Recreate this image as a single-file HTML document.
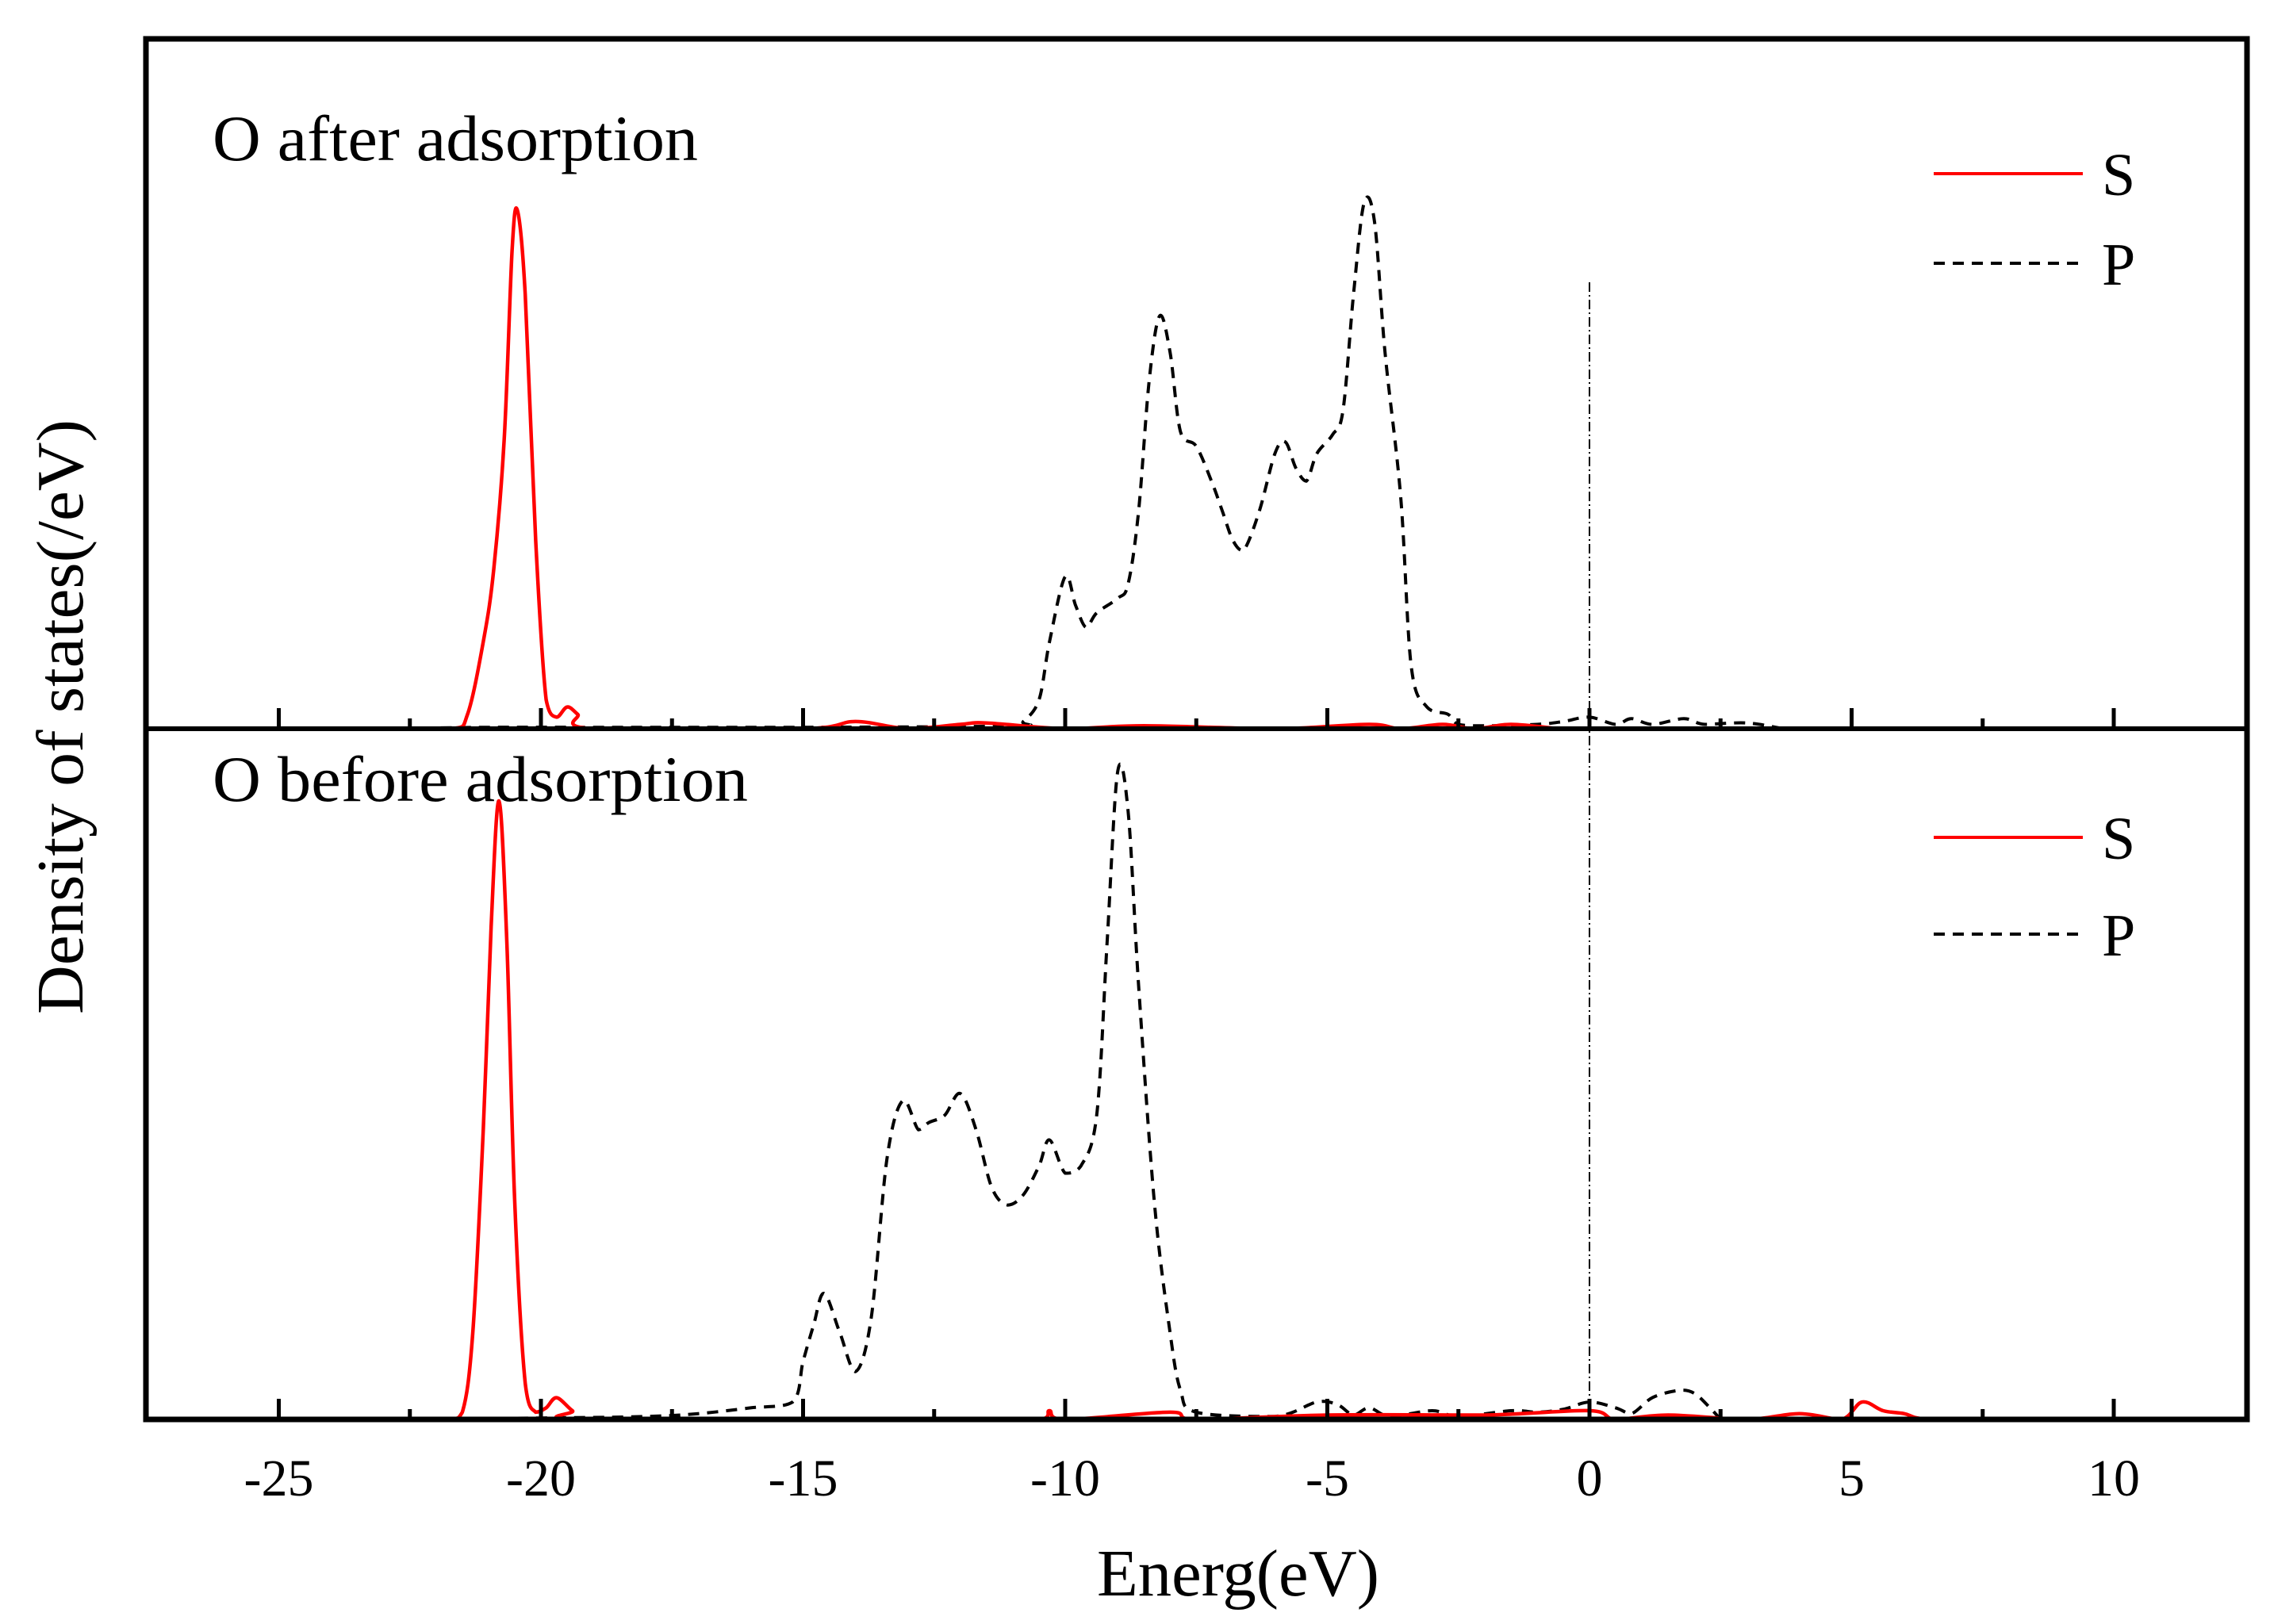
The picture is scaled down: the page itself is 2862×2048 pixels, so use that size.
<!DOCTYPE html>
<html><head><meta charset="utf-8"><style>
html,body{margin:0;padding:0;background:#fff}
svg{display:block}
text{font-family:"Liberation Serif",serif;fill:#000}
</style></head><body>
<svg id="chart" width="2862" height="2048" viewBox="0 0 2862 2048" xmlns="http://www.w3.org/2000/svg">
<g id="marks"></g>
<rect x="184" y="49" width="2649" height="1741" fill="none" stroke="#000" stroke-width="7"/>
<line x1="184" y1="919" x2="2833" y2="919" stroke="#000" stroke-width="6"/>
<g id="ticks"></g>
<text x="268" y="202" font-size="82" textLength="612" lengthAdjust="spacingAndGlyphs">O after adsorption</text>
<text x="268" y="1010" font-size="82" textLength="675" lengthAdjust="spacingAndGlyphs">O before adsorption</text>
<text transform="translate(104,904) rotate(-90)" text-anchor="middle" font-size="84" textLength="750" lengthAdjust="spacingAndGlyphs">Density of states(/eV)</text>
<text x="1561" y="2012" text-anchor="middle" font-size="84" textLength="356" lengthAdjust="spacingAndGlyphs">Energ(eV)</text>
<g>
<line x1="2438" y1="219" x2="2626" y2="219" stroke="#f00" stroke-width="4"/>
<text x="2650" y="246" font-size="76">S</text>
<line x1="2438" y1="332" x2="2626" y2="332" stroke="#000" stroke-width="4" stroke-dasharray="14,10"/>
<text x="2650" y="359" font-size="76">P</text>
</g>
<g>
<line x1="2438" y1="1056" x2="2626" y2="1056" stroke="#f00" stroke-width="4"/>
<text x="2650" y="1083" font-size="76">S</text>
<line x1="2438" y1="1178" x2="2626" y2="1178" stroke="#000" stroke-width="4" stroke-dasharray="14,10"/>
<text x="2650" y="1205" font-size="76">P</text>
</g>
</svg>
<script>
const xTicks = [-25, -20, -15, -10, -5, 0, 5, 10];
const xMinorTicks = [-22.5, -17.5, -12.5, -7.5, -2.5, 2.5, 7.5];
const afterSE = [-23,-21.7,-21.4,-21.1,-20.9,-20.7,-20.55,-20.45,-20.3,-20.1,-19.9,-19.7,-19.5,-19.3,-19.0,-15,-14.0,-13,-12,-11.5,-10,-8.5,-6,-4.2,-3.6,-2.8,-2.2,-1.5,-0.6];
const afterSV = [0,0,10,60,110,200,330,358,300,130,20,8,15,10,0,0,5,0,3,4,0,2,0,3,0,3,0,3,0];
const afterPE = [-23,-21,-19,-15,-11,-10.8,-10.5,-10.3,-10.0,-9.8,-9.6,-9.4,-9.0,-8.8,-8.6,-8.4,-8.2,-8.0,-7.8,-7.5,-7.2,-7.0,-6.8,-6.6,-6.3,-6.0,-5.8,-5.6,-5.4,-5.2,-4.9,-4.7,-4.5,-4.3,-4.1,-3.9,-3.6,-3.4,-3.1,-2.7,-2.5,-2,-1,-0.5,0,0.5,0.8,1.2,1.8,2.2,3,3.7];
const afterPV = [0,1,1,1,2,5,20,60,105,85,70,80,90,100,150,240,285,260,205,195,170,150,130,123,150,190,198,180,171,190,203,220,300,363,350,260,160,43,15,10,3,2,3,5,8,3,7,3,7,3,4,0];
const beforeSE = [-23,-21.8,-21.5,-21.3,-21.1,-20.95,-20.8,-20.65,-20.5,-20.3,-20.1,-19.9,-19.7,-19.4,-19.1,-12,-10.5,-10.3,-10,-8,-7.5,-5,-2,0,0.5,1.5,3,4,4.8,5.2,5.6,6,6.5,8.3];
const beforeSV = [0,0,5,60,200,340,427,330,150,25,5,8,15,6,0,0,0,6,0,5,0,3,3,6,0,3,0,4,0,12,6,4,0,0];
const beforePE = [-23,-20,-18,-17,-16,-15.2,-15.0,-14.8,-14.6,-14.3,-14.0,-13.7,-13.4,-13.1,-12.8,-12.6,-12.3,-12.0,-11.7,-11.4,-11.1,-10.8,-10.5,-10.3,-10.0,-9.7,-9.4,-9.2,-9.0,-8.8,-8.6,-8.3,-8.0,-7.8,-7.5,-6,-5.2,-4.8,-4.5,-4.2,-3.8,-3,-2.5,-1.5,-1,-0.5,0,0.5,0.8,1.2,1.7,2.0,2.3,2.5];
const beforePV = [0,1,2,4,8,12,40,65,87,60,33,70,180,220,200,205,210,225,200,160,148,155,175,193,170,175,210,330,447,420,300,150,60,20,5,2,12,10,3,8,2,6,2,6,5,7,12,8,4,15,20,18,8,0];

const X0 = 2004, XS = 66.1, YS = 1.8264;
const UPPER_BASE = 919, LOWER_BASE = 1790;
function xScale(v){ return X0 + v * XS; }
function yScale(v, base){ return base - v * YS; }
const NS = 'http://www.w3.org/2000/svg';
const marks = document.getElementById('marks');
const ticks = document.getElementById('ticks');

function smoothPath(pts){
  let d = 'M' + pts[0][0].toFixed(1) + ',' + pts[0][1].toFixed(1);
  for (let i = 0; i < pts.length - 1; i++){
    const p0 = pts[i-1] || pts[i], p1 = pts[i], p2 = pts[i+1], p3 = pts[i+2] || p2;
    const c1x = p1[0] + (p2[0]-p0[0])/6, c1y = Math.min(p1[1] + (p2[1]-p0[1])/6, Math.max(p1[1],p2[1]));
    const c2x = p2[0] - (p3[0]-p1[0])/6, c2y = Math.min(p2[1] - (p3[1]-p1[1])/6, Math.max(p1[1],p2[1]));
    d += ' C' + c1x.toFixed(1) + ',' + c1y.toFixed(1) + ' ' + c2x.toFixed(1) + ',' + c2y.toFixed(1) + ' ' + p2[0].toFixed(1) + ',' + p2[1].toFixed(1);
  }
  return d;
}
function drawSeries(es, vs, base, color, dashed, name){
  const pts = es.map((e, i) => [xScale(e), Math.min(base, yScale(vs[i], base))]);
  const p = document.createElementNS(NS, 'path');
  p.setAttribute('d', smoothPath(pts));
  p.setAttribute('fill', 'none');
  p.setAttribute('stroke', color);
  p.setAttribute('stroke-width', dashed ? '4' : '4.5');
  if (dashed) p.setAttribute('stroke-dasharray', '14,10');
  
  
  marks.appendChild(p);
}

const fl = document.createElementNS(NS, 'line');
fl.setAttribute('x1', xScale(0)); fl.setAttribute('x2', xScale(0));
fl.setAttribute('y1', 356); fl.setAttribute('y2', LOWER_BASE);
fl.setAttribute('stroke', '#000'); fl.setAttribute('stroke-width', '2');
fl.setAttribute('stroke-dasharray', '12,4,2,4');


marks.appendChild(fl);

drawSeries(afterPE, afterPV, UPPER_BASE, '#000', true, 'after-p-series');
drawSeries(afterSE, afterSV, UPPER_BASE, '#f00', false, 'after-s-series');
drawSeries(beforePE, beforePV, LOWER_BASE, '#000', true, 'before-p-series');
drawSeries(beforeSE, beforeSV, LOWER_BASE, '#f00', false, 'before-s-series');

[UPPER_BASE, LOWER_BASE].forEach(base => {
  xTicks.forEach(t => {
    const l = document.createElementNS(NS, 'line');
    l.setAttribute('x1', xScale(t)); l.setAttribute('x2', xScale(t));
    l.setAttribute('y1', base); l.setAttribute('y2', base - 26);
    l.setAttribute('stroke', '#000'); l.setAttribute('stroke-width', '5');
    
    
    ticks.appendChild(l);
  });
  xMinorTicks.forEach(t => {
    const l = document.createElementNS(NS, 'line');
    l.setAttribute('x1', xScale(t)); l.setAttribute('x2', xScale(t));
    l.setAttribute('y1', base); l.setAttribute('y2', base - 13);
    l.setAttribute('stroke', '#000'); l.setAttribute('stroke-width', '5');
    
    
    ticks.appendChild(l);
  });
});
xTicks.forEach(t => {
  const tx = document.createElementNS(NS, 'text');
  tx.setAttribute('x', xScale(t)); tx.setAttribute('y', 1886);
  tx.setAttribute('text-anchor', 'middle'); tx.setAttribute('font-size', '66');
  tx.textContent = String(t);
  
  
  ticks.appendChild(tx);
});
</script>
</body></html>
